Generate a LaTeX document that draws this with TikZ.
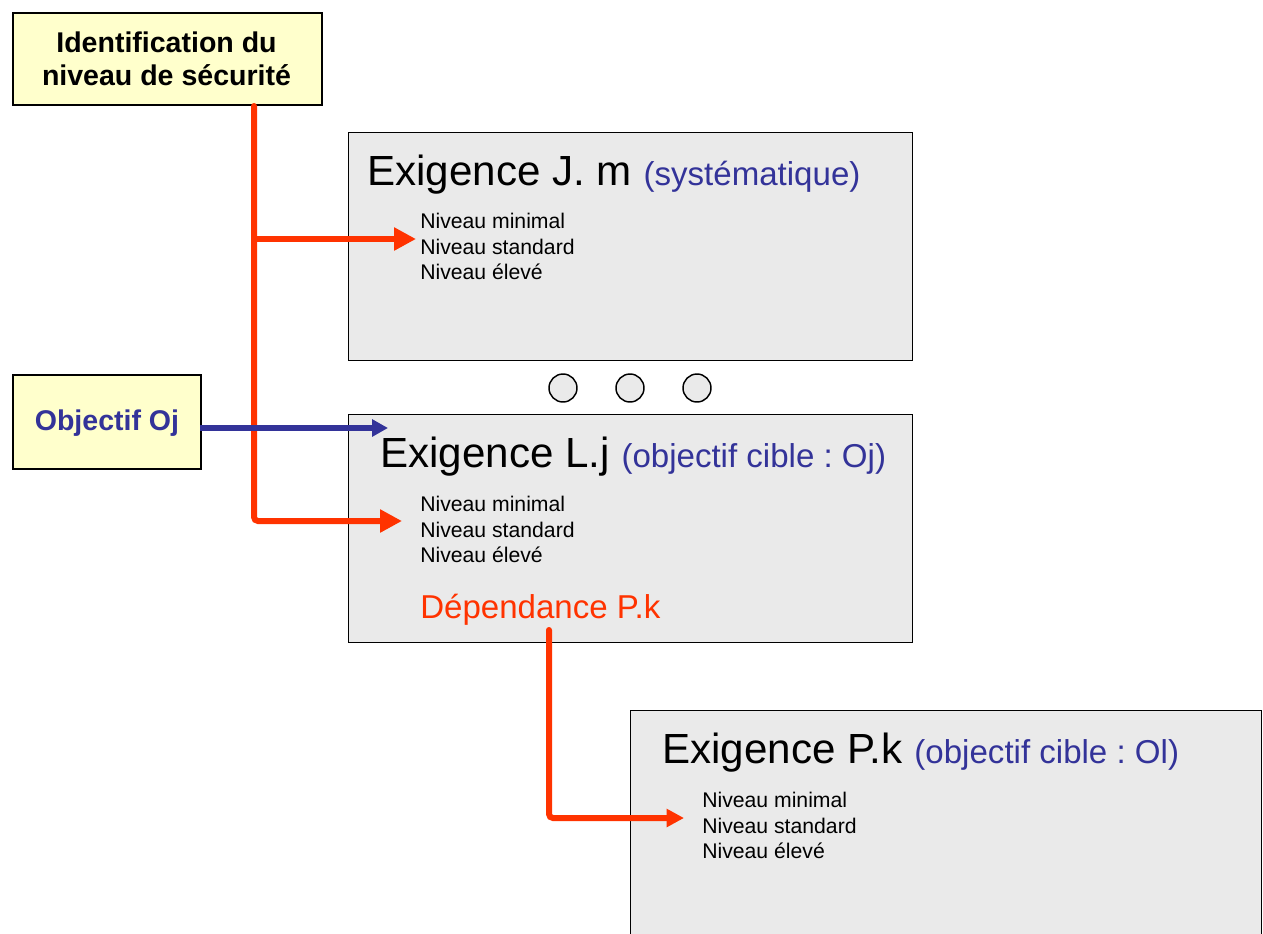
\documentclass[tikz,border=0pt]{standalone}
\usepackage{fontspec}
\setmainfont{Liberation Sans}
\usetikzlibrary{arrows.meta}
\definecolor{ored}{HTML}{FF3300}
\definecolor{oblue}{HTML}{333399}
\definecolor{byellow}{HTML}{FFFFCC}
\definecolor{bgray}{HTML}{EAEAEA}
\newcommand\subf{\fontsize{24.8}{28}\selectfont}
\frenchspacing
\begin{document}
\begin{tikzpicture}[x=0.75pt,y=-0.75pt,
  ybox/.style={draw=black, line width=1.3pt, fill=byellow, anchor=north west, inner sep=0pt},
  ytext/.style={font=\bfseries\fontsize{21.4}{24.75}\selectfont, align=center, inner sep=0pt},
  gbox/.style={draw=black, line width=1.1pt, fill=bgray, anchor=north west, inner sep=0pt},
  titletext/.style={anchor=base west, inner sep=0pt, font=\fontsize{31.6}{36}\selectfont},
  lvl/.style={anchor=base west, inner sep=0pt, font=\fontsize{15.9}{19}\selectfont},
  dot/.style={circle, draw=black, line width=1.1pt, fill=bgray, minimum size=21pt, inner sep=0pt},
  redarrow/.style={draw=ored, line width=4.5pt, line cap=round, rounded corners=3pt, -{Triangle[length=16.5pt,width=16.5pt]}},
  redarrowsmall/.style={draw=ored, line width=4.5pt, line cap=round, rounded corners=3pt, -{Triangle[length=13pt,width=13pt]}},
  bluearrow/.style={draw=oblue, line width=4.5pt, -{Triangle[length=12pt,width=12.5pt]}}
]
\clip (0,0) rectangle (1263,933);
\fill[white] (0,0) rectangle (1263,933);

% boxes
\node[ybox, minimum width=231.75pt, minimum height=69pt] (ident) at (12,12) {};
\node[ytext] (identtxt) at (166.5,59) {Identification du\\niveau de sécurité};
\node[ybox, minimum width=141pt, minimum height=70.5pt] (obj) at (12,374) {};
\node[ytext, text=oblue] (objtxt) at (107,423) {Objectif Oj};

\node[gbox, minimum width=423pt, minimum height=171pt] (jm) at (348,132) {};
\node[gbox, minimum width=423pt, minimum height=171pt] (lj) at (348,414) {};
\node[gbox, minimum width=473.25pt, minimum height=190pt] (pk) at (630,710) {};

% dots
\node[dot] (d1) at (563,388) {};
\node[dot] (d2) at (630,388) {};
\node[dot] (d3) at (697,388) {};

% J.m
\node[titletext] (jmt) at (367,185) {Exigence J. m \textcolor{oblue}{\subf (systématique)}};
\node[lvl] (jm1) at (420,228.5) {Niveau minimal};
\node[lvl] (jm2) at (420,254.5) {Niveau standard};
\node[lvl] (jm3) at (420,279.5) {Niveau élevé};

% L.j
\node[titletext] (ljt) at (380,467) {Exigence L.j \textcolor{oblue}{\subf (objectif cible : Oj)}};
\node[lvl] (lj1) at (420,511.5) {Niveau minimal};
\node[lvl] (lj2) at (420,537.5) {Niveau standard};
\node[lvl] (lj3) at (420,562.5) {Niveau élevé};
\node[anchor=base west, inner sep=0pt, font=\subf, text=ored] (dep) at (420,618) {Dépendance P.k};

% P.k
\node[titletext] (pkt) at (662,763) {Exigence P.k \textcolor{oblue}{\subf (objectif cible : Ol)}};
\node[lvl] (pk1) at (702,807.5) {Niveau minimal};
\node[lvl] (pk2) at (702,833.5) {Niveau standard};
\node[lvl] (pk3) at (702,858.5) {Niveau élevé};

% connectors
\coordinate (trunk) at (254,106);
\coordinate (tipJ) at (416,239);
\coordinate (tipL) at (402,521);
\coordinate (objout) at (200,428);
\coordinate (tipO) at (388,428);
\coordinate (depout) at (549,630);
\coordinate (tipP) at (684,818);

\draw[redarrow] (trunk) |- (tipL);
\draw[redarrow] (trunk |- tipJ) -- (tipJ);
\draw[bluearrow] (objout) -- (tipO);
\draw[redarrowsmall] (depout) |- (tipP);
\end{tikzpicture}
\end{document}
